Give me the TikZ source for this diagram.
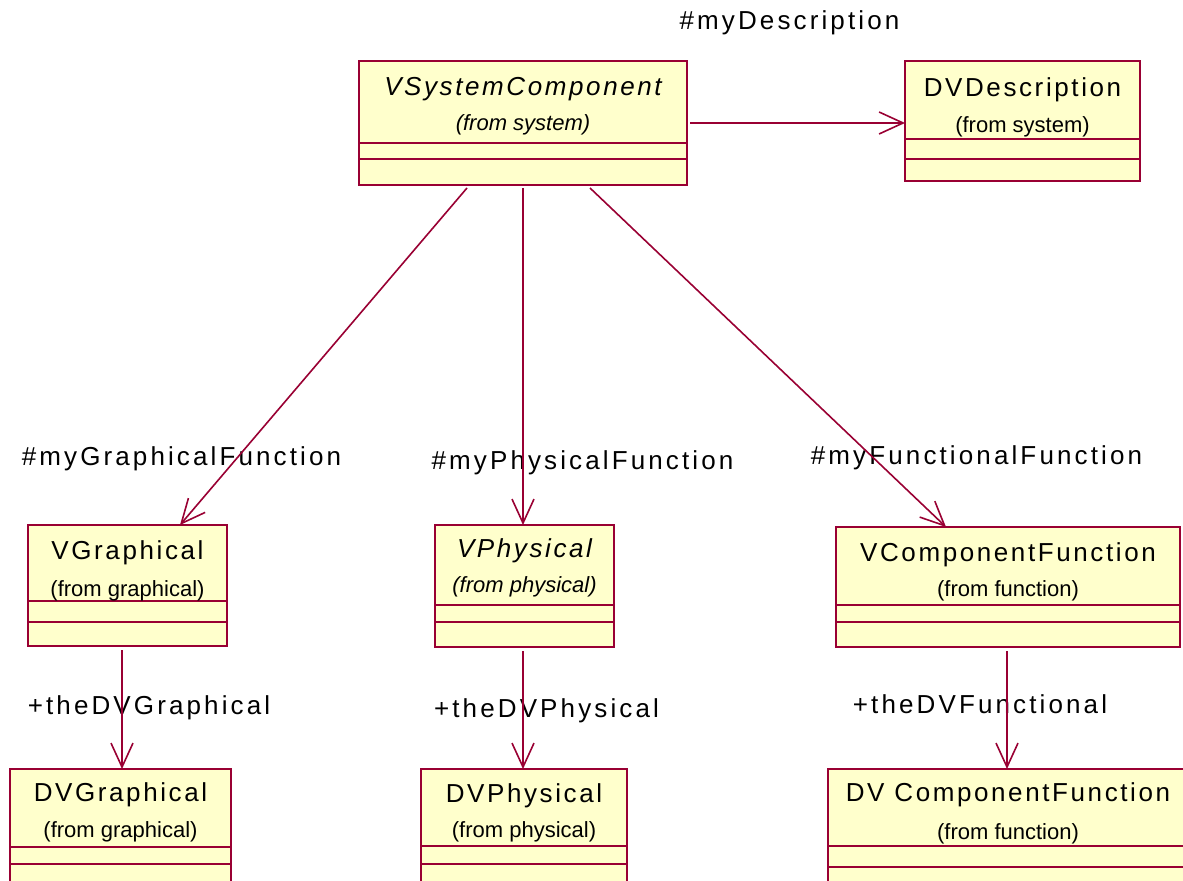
\documentclass[tikz,border=0pt]{standalone}
\usepackage{fontspec}
\setmainfont{Liberation Sans}
\newfontfamily\umlfont[LetterSpace=10]{Liberation Sans}
\newfontfamily\rolefont[LetterSpace=12]{Liberation Sans}
\usepackage{xcolor}
\usepackage{tikz}
\usetikzlibrary{arrows.meta, positioning}
\definecolor{umlred}{RGB}{153,0,51}
\definecolor{umlyellow}{RGB}{255,255,204}

\begin{document}
\begin{tikzpicture}[
    x=0.5pt, y=-0.5pt,
    header/.style={rectangle, draw=umlred, fill=umlyellow, line width=0.8pt, inner sep=0pt, outer sep=0pt},
    compart/.style={header, below=0pt of #1},
    title/.style={font=\umlfont\fontsize{13}{15}\selectfont, inner sep=0pt, yshift=-1.5pt},
    pkg/.style={font=\fontsize{11}{13}\selectfont, inner sep=0pt, yshift=-1pt},
    role/.style={font=\rolefont\fontsize{13}{15}\selectfont, inner sep=0pt},
    arrow/.style={draw=umlred, line width=0.8pt, -{Straight Barb[length=12pt, width=11pt, line width=0.8pt]}}
]
    \useasboundingbox (0,0) rectangle (1183,881);
    \clip (0,0) rectangle (1183,881);

    % VSystemComponent (top middle)
    \node [header, minimum width=164pt, minimum height=41pt] (vsys) at (523,102) {};
    \node [compart=vsys, minimum width=164pt, minimum height=8pt] (vsysattr) {};
    \node [compart=vsysattr, minimum width=164pt, minimum height=13pt] (vsysops) {};
    \node [title] (vsystitle) at ([yshift=-12.5pt]vsys.north) {\itshape VSystemComponent};
    \node [pkg] (vsyspkg) at ([yshift=-31pt]vsys.north) {\itshape (from system)};

    % DVDescription (top right)
    \node [header, minimum width=117.5pt, minimum height=39pt] (dvdesc) at (1022.5,100) {};
    \node [compart=dvdesc, minimum width=117.5pt, minimum height=10pt] (dvdescattr) {};
    \node [compart=dvdescattr, minimum width=117.5pt, minimum height=11pt] (dvdescops) {};
    \node [title] (dvdesctitle) at ([yshift=-13pt]dvdesc.north) {DVDescription};
    \node [pkg] (dvdescpkg) at ([yshift=-32pt]dvdesc.north) {(from system)};

    % VGraphical (left)
    \node [header, minimum width=99.5pt, minimum height=38pt] (vgraph) at (127.5,563) {};
    \node [compart=vgraph, minimum width=99.5pt, minimum height=10.5pt] (vgraphattr) {};
    \node [compart=vgraphattr, minimum width=99.5pt, minimum height=12pt] (vgraphops) {};
    \node [title] (vgraphtitle) at ([yshift=-12.5pt]vgraph.north) {VGraphical};
    \node [pkg] (vgraphpkg) at ([yshift=-32pt]vgraph.north) {(from graphical)};

    % VPhysical (middle)
    \node [header, minimum width=89.5pt, minimum height=40pt] (vphys) at (524.5,565) {};
    \node [compart=vphys, minimum width=89.5pt, minimum height=8.5pt] (vphysattr) {};
    \node [compart=vphysattr, minimum width=89.5pt, minimum height=12.5pt] (vphysops) {};
    \node [title] (vphystitle) at ([yshift=-11.5pt]vphys.north) {\itshape VPhysical};
    \node [pkg] (vphyspkg) at ([yshift=-30pt]vphys.north) {\itshape (from physical)};

    % VComponentFunction (right)
    \node [header, minimum width=172pt, minimum height=39pt] (vcompf) at (1008,566) {};
    \node [compart=vcompf, minimum width=172pt, minimum height=8.5pt] (vcompfattr) {};
    \node [compart=vcompfattr, minimum width=172pt, minimum height=12.5pt] (vcompfops) {};
    \node [title] (vcompftitle) at ([yshift=-12.5pt]vcompf.north) {VComponentFunction};
    \node [pkg] (vcompfpkg) at ([yshift=-31pt]vcompf.north) {(from function)};

    % DVGraphical (bottom left)
    \node [header, minimum width=110.5pt, minimum height=39pt] (dvgraph) at (120.5,808) {};
    \node [compart=dvgraph, minimum width=110.5pt, minimum height=8.5pt] (dvgraphattr) {};
    \node [compart=dvgraphattr, minimum width=110.5pt, minimum height=12pt] (dvgraphops) {};
    \node [title] (dvgraphtitle) at ([yshift=-11.5pt]dvgraph.north) {DVGraphical};
    \node [pkg] (dvgraphpkg) at ([yshift=-30.5pt]dvgraph.north) {(from graphical)};

    % DVPhysical (bottom middle)
    \node [header, minimum width=103pt, minimum height=38.5pt] (dvphys) at (524,807.5) {};
    \node [compart=dvphys, minimum width=103pt, minimum height=9pt] (dvphysattr) {};
    \node [compart=dvphysattr, minimum width=103pt, minimum height=12pt] (dvphysops) {};
    \node [title] (dvphystitle) at ([yshift=-12pt]dvphys.north) {DVPhysical};
    \node [pkg] (dvphyspkg) at ([yshift=-30.5pt]dvphys.north) {(from physical)};

    % DV ComponentFunction (bottom right)
    \node [header, minimum width=180pt, minimum height=38.5pt] (dvcompf) at (1008,807.5) {};
    \node [compart=dvcompf, minimum width=180pt, minimum height=10.5pt] (dvcompfattr) {};
    \node [compart=dvcompfattr, minimum width=180pt, minimum height=12pt] (dvcompfops) {};
    \node [title] (dvcompftitle) at ([yshift=-11.5pt]dvcompf.north) {DV ComponentFunction};
    \node [pkg] (dvcompfpkg) at ([yshift=-31.5pt]dvcompf.north) {(from function)};

    % Role names
    \node [role] (rdesc) at (789.5,23) {\#myDescription};
    \node [role] (rgraph) at (181.5,459) {\#myGraphicalFunction};
    \node [role] (rphys) at (582.5,463) {\#myPhysicalFunction};
    \node [role] (rfunc) at (976.5,458) {\#myFunctionalFunction};
    \node [role] (rdvgraph) at (149,708) {+theDVGraphical};
    \node [role] (rdvphys) at (546.5,711) {+theDVPhysical};
    \node [role] (rdvfunc) at (980,704) {+theDVFunctional};

    % Associations
    \draw [arrow] ([xshift=1.5pt, yshift=-10.5pt]vsys.east) -- ([yshift=-11.5pt]dvdesc.west);
    \draw [arrow] ([xshift=-28pt, yshift=-1.5pt]vsysops.south) -- ([xshift=26.25pt]vgraph.north);
    \draw [arrow] ([yshift=-1.5pt]vsysops.south) -- ([xshift=-0.75pt]vphys.north);
    \draw [arrow] ([xshift=33.5pt, yshift=-1.5pt]vsysops.south) -- ([xshift=-31pt]vcompf.north);
    \draw [arrow] ([xshift=-2.75pt, yshift=-2pt]vgraphops.south) -- ([xshift=0.75pt]dvgraph.north);
    \draw [arrow] ([xshift=-0.75pt, yshift=-2pt]vphysops.south) -- ([xshift=-0.5pt]dvphys.north);
    \draw [arrow] ([xshift=-0.5pt, yshift=-2pt]vcompfops.south) -- ([xshift=-0.5pt]dvcompf.north);
\end{tikzpicture}
\end{document}
